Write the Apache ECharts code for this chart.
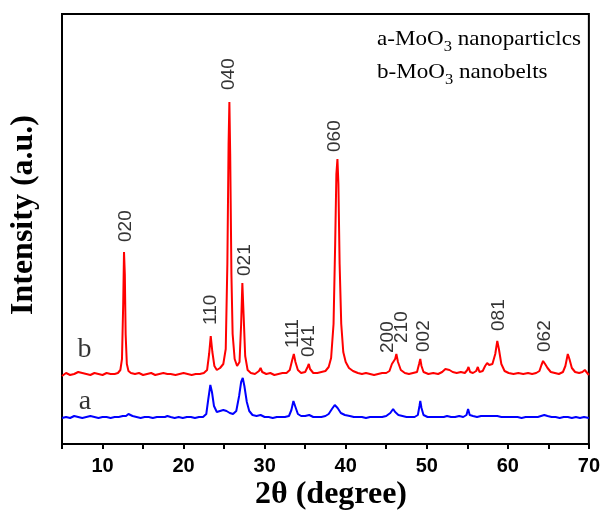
<!DOCTYPE html>
<html>
<head>
<meta charset="utf-8">
<script src="https://cdn.jsdelivr.net/npm/echarts@6/dist/echarts.min.js"></script>
<style>
    html, body { margin: 0; padding: 0; background: #fff; }
    #chart { width: 603px; height: 511px; }
</style>
</head>
<body>
<div id="chart"></div>
<script>
// b - nanobelts (red), intensity in arbitrary units (offset pattern)
const patternB = [
    [5, 68], [5.5, 71], [6, 69], [6.5, 70], [7, 72], [7.5, 71], [8, 70], [8.5, 69], [9, 71], [9.5, 70],
    [10, 69], [10.5, 71], [11, 70], [11.5, 70], [11.9, 71], [12.2, 74], [12.4, 85], [12.55, 140], [12.65, 192],
    [12.75, 170], [12.85, 110], [13.0, 80], [13.2, 73], [13.5, 71], [14, 70], [14.5, 71], [15, 69], [15.5, 70],
    [16, 71], [16.5, 69], [17, 70], [17.5, 71], [18, 70], [18.2, 72], [18.4, 70], [19, 69], [19.5, 70], [20, 71],
    [20.5, 70], [21, 69], [21.5, 70], [22, 70], [22.5, 71], [22.9, 74], [23.15, 90], [23.35, 108], [23.55, 92],
    [23.8, 78], [24.1, 74], [24.5, 76], [24.9, 80], [25.2, 95], [25.4, 180], [25.55, 300], [25.65, 342],
    [25.75, 290], [25.9, 170], [26.05, 110], [26.3, 85], [26.6, 78], [26.9, 82], [27.1, 120], [27.25, 161],
    [27.4, 130], [27.6, 88], [27.9, 74], [28.3, 71], [28.8, 70], [29.3, 73], [29.5, 76], [29.7, 72], [30.2, 70],
    [30.7, 71], [31.2, 69], [31.7, 70], [32.2, 71], [32.7, 71], [33.1, 74], [33.4, 84], [33.6, 90], [33.8, 82],
    [34.1, 74], [34.5, 71], [35, 72], [35.3, 77], [35.45, 80], [35.6, 75], [36, 71], [36.5, 71], [37, 72],
    [37.5, 73], [37.9, 77], [38.2, 86], [38.5, 120], [38.7, 200], [38.85, 270], [38.98, 285], [39.1, 260],
    [39.25, 180], [39.45, 120], [39.7, 92], [40, 82], [40.4, 76], [40.9, 73], [41.5, 71], [42, 70], [42.5, 71],
    [43, 70], [43.5, 69], [44, 70], [44.5, 71], [45, 71], [45.4, 73], [45.7, 80], [45.9, 79], [46.1, 85],
    [46.25, 90], [46.45, 82], [46.8, 74], [47.3, 71], [47.8, 70], [48.3, 71], [48.8, 72], [49.05, 80], [49.2, 85],
    [49.35, 78], [49.6, 72], [50.2, 70], [50.8, 71], [51.4, 70], [51.9, 72], [52.3, 75], [52.5, 76], [52.8, 74],
    [53.2, 72], [53.7, 71], [54.2, 72], [54.7, 71], [55.0, 74], [55.15, 77], [55.35, 72], [55.7, 71], [56.1, 73],
    [56.3, 77], [56.5, 72], [56.9, 73], [57.2, 78], [57.45, 81], [57.7, 79], [58.1, 80], [58.45, 90], [58.7, 103],
    [58.9, 95], [59.2, 80], [59.6, 73], [60.1, 71], [60.7, 70], [61.3, 71], [61.9, 70], [62.5, 71], [63, 70],
    [63.5, 71], [63.9, 73], [64.15, 79], [64.35, 83], [64.6, 80], [64.9, 76], [65.3, 72], [65.8, 71], [66.3, 70],
    [66.8, 72], [67.1, 78], [67.4, 90], [67.6, 85], [67.9, 76], [68.3, 72], [68.8, 71], [69.2, 72], [69.5, 74],
    [69.8, 71], [70, 69]
];

// a - nanoparticles (blue)
const patternA = [
    [5, 26], [5.5, 27], [6, 26], [6.5, 28], [7, 27], [7.5, 26], [8, 27], [8.5, 28], [9, 27], [9.5, 26], [10, 27],
    [10.5, 27], [11, 26], [11.5, 27], [12, 27], [12.5, 28], [12.9, 28], [13.2, 30], [13.4, 31], [13.7, 28],
    [14.2, 27], [14.7, 26], [15.2, 27], [15.7, 27], [16.2, 26], [16.7, 27], [17.2, 27], [17.7, 27], [18.0, 28],
    [18.2, 30], [18.4, 27], [18.9, 26], [19.4, 27], [19.9, 26], [20.4, 27], [20.9, 27], [21.4, 26], [21.9, 27],
    [22.4, 27], [22.8, 30], [23.05, 45], [23.3, 59], [23.5, 52], [23.75, 38], [24.1, 32], [24.5, 33], [24.9, 34],
    [25.3, 33], [25.7, 31], [26.1, 30], [26.5, 33], [26.85, 48], [27.1, 62], [27.3, 66], [27.5, 58], [27.8, 42],
    [28.1, 33], [28.5, 29], [29, 28], [29.5, 29], [30, 27], [30.5, 27], [31, 26], [31.5, 27], [32, 27], [32.5, 27],
    [33, 28], [33.3, 34], [33.55, 43], [33.8, 37], [34.1, 30], [34.5, 28], [35, 28], [35.5, 29], [36, 27],
    [36.5, 27], [37, 27], [37.5, 28], [37.9, 30], [38.3, 35], [38.65, 39], [39, 36], [39.4, 31], [39.9, 29],
    [40.5, 28], [41, 27], [41.5, 27], [42, 27], [42.5, 26], [43, 27], [43.5, 27], [44, 27], [44.5, 27], [45, 28],
    [45.5, 31], [45.85, 35], [46.1, 32], [46.5, 29], [47, 28], [47.5, 27], [48, 27], [48.5, 27], [48.9, 29],
    [49.1, 38], [49.2, 43], [49.35, 36], [49.6, 29], [50.1, 27], [50.6, 27], [51.1, 27], [51.6, 27], [52.1, 27],
    [52.5, 28], [53, 27], [53.5, 27], [54, 28], [54.5, 27], [54.9, 29], [55.1, 35], [55.3, 29], [55.7, 28],
    [56.2, 27], [56.7, 28], [57.2, 28], [57.7, 28], [58.2, 28], [58.7, 28], [59.2, 27], [59.7, 27], [60.2, 27],
    [60.7, 27], [61.2, 27], [61.7, 26], [62.2, 27], [62.7, 27], [63.2, 27], [63.7, 27], [64.1, 28], [64.5, 29],
    [64.9, 28], [65.4, 27], [65.9, 27], [66.4, 26], [66.9, 27], [67.4, 27], [67.9, 26], [68.4, 27], [68.9, 26],
    [69.4, 27], [70, 26]
];

// hkl labels above the peaks of pattern b
const peakNames = ["020", "110", "040", "021", "111", "041", "060", "200", "210", "002", "081", "062"];
const peakTheta = [12.9, 23.35, 25.6, 27.5, 33.5, 35.5, 38.7, 45.2, 46.9, 49.6, 58.9, 64.5];
const peakLabelBase = [202, 119, 354, 168, 96, 87, 292, 91, 101, 92, 113, 92];

const curveNames = ["b", "a"];
const curveTheta = [7.77, 7.83];
const curveLabelY = [94, 42];

const xTicks = [10, 20, 30, 40, 50, 60, 70];

const chart = echarts.init(document.getElementById("chart"));

const legendRich = {
    t: { fontFamily: "Liberation Serif", fontSize: 21, lineHeight: 30, fill: "#000" },
    s: { fontFamily: "Liberation Serif", fontSize: 15, lineHeight: 15, verticalAlign: "bottom", fill: "#000" },
};

const option = {
    animation: false,
    grid: {
        left: 62,
        right: 13,
        top: 14,
        bottom: 67,
        show: true,
        borderColor: "#000",
        borderWidth: 2,
    },
    xAxis: {
        type: "value",
        min: 5,
        max: 70,
        interval: 5,
        axisLine: { lineStyle: { color: "#000", width: 2 } },
        axisTick: { inside: false, length: 5, lineStyle: { color: "#000", width: 2 } },
        splitLine: { show: false },
        axisLabel: {
            margin: 12,
            color: "#000",
            fontFamily: "Liberation Sans",
            fontWeight: "bold",
            fontSize: 20,
            formatter: (v) => (xTicks.indexOf(v) >= 0 ? String(v) : ""),
        },
    },
    yAxis: {
        type: "value",
        min: 0,
        max: 430,
        axisLine: { show: true, lineStyle: { color: "#000", width: 2 } },
        axisTick: { show: false },
        axisLabel: { show: false },
        splitLine: { show: false },
    },
    series: [
        {
            name: "b",
            type: "line",
            data: patternB,
            showSymbol: false,
            lineStyle: { color: "#ff0000", width: 2 },
        },
        {
            name: "a",
            type: "line",
            data: patternA,
            showSymbol: false,
            lineStyle: { color: "#0000ff", width: 2 },
        },
        {
            type: "scatter",
            symbolSize: 0,
            data: peakNames.map((n, i) => ({ name: n, value: [peakTheta[i], peakLabelBase[i]] })),
            label: {
                show: true,
                position: "top",
                distance: 0,
                rotate: 90,
                align: "left",
                verticalAlign: "middle",
                formatter: "{b}",
                color: "#000",
                fontFamily: "Liberation Sans",
                fontSize: 19,
            },
        },
        {
            type: "scatter",
            symbolSize: 0,
            data: curveNames.map((n, i) => ({ name: n, value: [curveTheta[i], curveLabelY[i]] })),
            label: {
                show: true,
                position: "inside",
                formatter: "{b}",
                color: "#000",
                fontFamily: "Liberation Serif",
                fontSize: 28,
            },
        },
    ],
    graphic: [
        {
            type: "text",
            left: 377,
            top: 29,
            scaleX: 1.1,
            style: { text: "{t|a-MoO}{s|3}{t| nanoparticlcs}", rich: legendRich },
        },
        {
            type: "text",
            left: 377,
            top: 62,
            scaleX: 1.1,
            style: { text: "{t|b-MoO}{s|3}{t| nanobelts}", rich: legendRich },
        },
        {
            type: "text",
            x: 24,
            y: 215,
            rotation: Math.PI / 2,
            style: {
                text: "Intensity (a.u.)",
                fontFamily: "Liberation Serif",
                fontWeight: "bold",
                fontSize: 32,
                fill: "#000",
                textAlign: "center",
                textVerticalAlign: "middle",
            },
        },
        {
            type: "text",
            x: 331,
            y: 495,
            style: {
                text: "2θ (degree)",
                fontFamily: "Liberation Serif",
                fontWeight: "bold",
                fontSize: 32,
                fill: "#000",
                textAlign: "center",
                textVerticalAlign: "middle",
            },
        },
    ],
};

chart.setOption(option);
</script>
</body>
</html>
